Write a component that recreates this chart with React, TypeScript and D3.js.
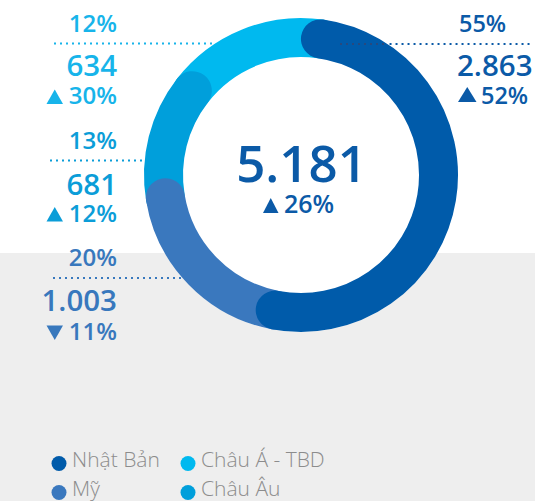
import React from "react";
import * as d3 from "d3";

// ---- data ----
const categories = ["Nhật Bản", "Mỹ", "Châu Âu", "Châu Á - TBD"];
const values = [2863, 1003, 681, 634];
const shareLabels = ["55%", "20%", "13%", "12%"];
const valueLabels = ["2.863", "1.003", "681", "634"];
const changeLabels = ["52%", "11%", "12%", "30%"];
const changeUp = [true, false, true, true];
const totalLabel = "5.181";
const totalChange = "26%";
const legendOrder = ["Nhật Bản", "Châu Á - TBD", "Mỹ", "Châu Âu"];

const colors: Record<string, string> = {
  "Nhật Bản": "#005BAA",
  "Mỹ": "#3A78BE",
  "Châu Âu": "#009FDB",
  "Châu Á - TBD": "#00B9EF",
};
const textColors: Record<string, string> = {
  "Nhật Bản": "#0B5AA7",
  "Mỹ": "#3878BD",
  "Châu Âu": "#0B9DD8",
  "Châu Á - TBD": "#17B4EA",
};

const W = 535;
const H = 501;
const cx = 301;
const cy = 175;
const rOuter = 157;
const band = 39;
const rMid = rOuter - band / 2;
const capA = band / 2 / rMid;

const FONT = "'Open Sans', 'Noto Sans', sans-serif";

// label layout: side, anchor x, baselines
const layout: Record<string, any> = {
  "Nhật Bản": { side: "right", x: 458, share: 32, line: 44, value: 76, change: 104 },
  "Châu Á - TBD": { side: "left", x: 117, share: 32, line: 43.5, value: 76, change: 104, lineStart: 54 },
  "Châu Âu": { side: "left", x: 117, share: 149, line: 160.5, value: 195, change: 221.5, lineStart: 50 },
  "Mỹ": { side: "left", x: 117, share: 266, line: 278, value: 311, change: 340, lineStart: 53 },
};

function arcPath(a0: number, a1: number) {
  const p = d3.path();
  p.arc(cx, cy, rMid, a0 - Math.PI / 2, a1 - Math.PI / 2);
  return p.toString();
}

function tri(x: number, yBottom: number, w: number, h: number, up: boolean) {
  if (up) return `M${x},${yBottom}L${x + w / 2},${yBottom - h}L${x + w},${yBottom}Z`;
  return `M${x},${yBottom - h}L${x + w},${yBottom - h}L${x + w / 2},${yBottom}Z`;
}

export default function App() {
  const data = categories.map((c, i) => ({ c, v: values[i], i }));
  const pie = d3.pie<any>().sort(null).value((d) => d.v);
  const arcs = pie(data);
  const byName: Record<string, any> = {};
  arcs.forEach((a) => (byName[a.data.c] = a));

  // stroke extents with round caps overlapping the next slice
  const strokes = [
    { c: "Châu Á - TBD", a0: byName["Châu Á - TBD"].startAngle - capA, a1: byName["Châu Á - TBD"].endAngle + capA },
    { c: "Châu Âu", a0: byName["Châu Âu"].startAngle - capA, a1: byName["Châu Âu"].endAngle - capA },
    { c: "Mỹ", a0: byName["Mỹ"].startAngle - capA, a1: byName["Mỹ"].endAngle - capA },
    { c: "Nhật Bản", a0: byName["Nhật Bản"].startAngle + capA, a1: byName["Nhật Bản"].endAngle - capA },
  ];

  const ringX = (y: number) => cx - Math.sqrt(rOuter * rOuter - (y - cy) * (y - cy));
  const ringXR = (y: number) => cx + Math.sqrt(rOuter * rOuter - (y - cy) * (y - cy));

  return (
    <svg width={W} height={H} style={{ position: "absolute", left: 0, top: 0 }} fontFamily={FONT}>
      <rect x={0} y={0} width={W} height={H} fill="#ffffff" />
      <rect x={0} y={253} width={W} height={H - 253} fill="#EEEEEE" />

      {/* left dotted lines (under ring) */}
      {categories.filter((c) => layout[c].side === "left").map((c) => {
        const L = layout[c];
        return (
          <line key={"l" + c} x1={L.lineStart} x2={ringX(L.line)} y1={L.line} y2={L.line}
            stroke={textColors[c]} strokeWidth={2} strokeDasharray="2 4" />
        );
      })}

      <circle cx={cx} cy={cy} r={rOuter} fill="#ffffff" />
      {strokes.map((s) => (
        <path key={s.c} d={arcPath(s.a0, s.a1)} fill="none" stroke={colors[s.c]}
          strokeWidth={band} strokeLinecap="round" />
      ))}

      {/* right dotted line (over ring) */}
      <line x1={340} x2={ringXR(44)} y1={44} y2={44} stroke="#27497F" strokeWidth={2} strokeDasharray="2 4" />
      <line x1={ringXR(44) + 2} x2={533} y1={44} y2={44} stroke="#0B5AA7" strokeWidth={2} strokeDasharray="2 4" />

      {/* labels */}
      {categories.map((c, i) => {
        const L = layout[c];
        const col = textColors[c];
        if (L.side === "left") {
          return (
            <g key={"t" + c} fill={col} fontWeight={600} textAnchor="end">
              <text x={L.x} y={L.share} fontSize={24}>{shareLabels[i]}</text>
              <text x={L.x} y={L.value} fontSize={29.5}>{valueLabels[i]}</text>
              <text x={L.x} y={L.change} fontSize={24}>{changeLabels[i]}</text>
              <path d={tri(L.x - 70.5, L.change, 16.5, 14.5, changeUp[i])} />
            </g>
          );
        }
        return (
          <g key={"t" + c} fill={col} fontWeight={600}>
            <text x={L.x + 1} y={L.share} fontSize={23.5}>{shareLabels[i]}</text>
            <text x={L.x - 1} y={L.value} fontSize={29.5}>{valueLabels[i]}</text>
            <text x={L.x + 23} y={L.change} fontSize={23.5}>{changeLabels[i]}</text>
            <path d={tri(L.x, L.change - 2, 18.5, 15, changeUp[i])} />
          </g>
        );
      })}

      {/* center */}
      <g fill="#0B5AA7" fontWeight={600}>
        <text x={cx + 0.5} y={181.5} fontSize={51} textAnchor="middle">{totalLabel}</text>
        <path d={tri(263, 213, 15.5, 15, true)} />
        <text x={284} y={213} fontSize={25}>{totalChange}</text>
      </g>

      {/* legend */}
      {legendOrder.map((c, k) => {
        const col = k % 2;
        const row = Math.floor(k / 2);
        const x = 59 + col * 129;
        const y = 463.5 + row * 29;
        return (
          <g key={"lg" + c}>
            <circle cx={x} cy={y} r={7.5} fill={colors[c]} />
            <text x={x + 13} y={y + 3.5} fontSize={21} fontWeight={300} fill="#8C8C8C">{c}</text>
          </g>
        );
      })}
    </svg>
  );
}
